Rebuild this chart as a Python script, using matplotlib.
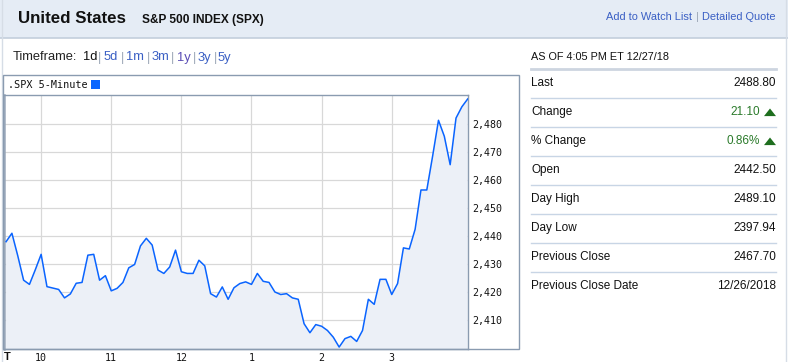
import matplotlib
matplotlib.use('Agg')
import matplotlib.pyplot as plt
from matplotlib.patches import Rectangle, Polygon
from matplotlib.lines import Line2D

# ---------------- data ----------------
start_minute = 570          # 9:30 in minutes after midnight
step_minutes = 5
prices = [2438.0, 2441.0, 2433.0, 2424.3, 2422.8, 2428.0, 2433.5, 2422.0, 2421.5, 2421.0,
          2418.0, 2419.4, 2423.2, 2423.5, 2433.2, 2433.5, 2424.3, 2425.9, 2420.5, 2421.4,
          2423.5, 2428.7, 2429.9, 2436.5, 2439.2, 2436.8, 2427.9, 2426.7, 2429.0, 2435.0,
          2427.3, 2426.7, 2426.7, 2431.4, 2429.4, 2419.5, 2418.3, 2421.9, 2417.5, 2421.6,
          2423.1, 2423.7, 2422.8, 2426.7, 2423.9, 2423.5, 2420.1, 2419.2, 2419.5, 2418.0,
          2417.5, 2408.8, 2405.6, 2408.5, 2407.9, 2406.4, 2404.0, 2400.5, 2403.5, 2404.3,
          2402.5, 2406.4, 2417.5, 2415.7, 2424.6, 2424.6, 2419.2, 2423.1, 2435.8, 2435.4,
          2442.4, 2456.4, 2456.4, 2468.5, 2481.2, 2475.5, 2465.4, 2482.0, 2486.0, 2488.8]
times = [start_minute + step_minutes * i for i in range(len(prices))]

x_tick_minutes = [600, 660, 720, 780, 840, 900]
x_tick_labels = ['10', '11', '12', '1', '2', '3']
y_ticks = [2410, 2420, 2430, 2440, 2450, 2460, 2470, 2480]
y_tick_labels = ['2,410', '2,420', '2,430', '2,440', '2,450', '2,460', '2,470', '2,480']

timeframes = ['1d', '5d', '1m', '3m', '1y', '3y', '5y']
quote_labels = ['Last', 'Change', '% Change', 'Open', 'Day High', 'Day Low',
                'Previous Close', 'Previous Close Date']
quote_values = ['2488.80', '21.10', '0.86%', '2442.50', '2489.10', '2397.94',
                '2467.70', '12/26/2018']
quote_up = [False, True, True, False, False, False, False, False]

# ---------------- figure ----------------
W, H = 788, 362
fig = plt.figure(figsize=(W / 100, H / 100), dpi=100)
fig.patch.set_facecolor('white')


def fx(x):
    return x / W


def fy(y):
    return 1 - y / H


SANS = ['Liberation Sans', 'DejaVu Sans']
MONO = ['DejaVu Sans Mono']
LINK = '#3a5fc4'

# header bar
fig.patches.append(Rectangle((0, fy(37.5)), 1, 37.5 / H, transform=fig.transFigure,
                             facecolor='#e5ecf5', edgecolor='none', zorder=0))
fig.lines.append(Line2D([0, 1], [fy(37.5), fy(37.5)], transform=fig.transFigure,
                        color='#c3cedc', lw=1.2))
# widget side borders
fig.lines.append(Line2D([fx(1.5), fx(1.5)], [0, 1], transform=fig.transFigure,
                        color='#d6dde6', lw=1))
fig.lines.append(Line2D([fx(786), fx(786)], [0, 1], transform=fig.transFigure,
                        color='#d6dde6', lw=1))

fig.text(fx(18), fy(18.5), 'United States', family=SANS, fontsize=12.2,
         fontweight='bold', color='#111111', va='center', ha='left')
fig.text(fx(142), fy(20), 'S&P 500 INDEX (SPX)', family=SANS, fontsize=8.6,
         fontweight='bold', color='#111111', va='center', ha='left')
fig.text(fx(776), fy(17), 'Detailed Quote', family=SANS, fontsize=7.9,
         color=LINK, va='center', ha='right')
fig.text(fx(697), fy(17), '|', family=SANS, fontsize=8,
         color='#9aa5b5', va='center', ha='center')
fig.text(fx(692), fy(17), 'Add to Watch List', family=SANS, fontsize=7.9,
         color=LINK, va='center', ha='right')

# timeframe row
tf_font = 9.3
fig.text(fx(13), fy(57.5), 'Timeframe:', family=SANS, fontsize=tf_font,
         color='#222222', va='center', ha='left')
tf_left = [82.7, 104, 126, 151.7, 176.7, 198, 218]
sep_x = [99.5, 122, 148, 173, 194.8, 215.2]
for i, tf in enumerate(timeframes):
    col = '#111111' if i == 0 else ('#5a4db5' if tf == '1y' else LINK)
    fig.text(fx(tf_left[i]), fy(57.5), tf, family=SANS, fontsize=tf_font,
             color=col, va='center', ha='left')
for sx in sep_x:
    fig.text(fx(sx), fy(57.5), '|', family=SANS, fontsize=tf_font,
             color='#9aa5b5', va='center', ha='center')

# chart outer frame
frame_col = '#8a9bb0'
fig.patches.append(Rectangle((fx(3), fy(349.3)), (519 - 3) / W, (349.3 - 75) / H,
                             transform=fig.transFigure, facecolor='none',
                             edgecolor=frame_col, lw=1, zorder=5))
fig.text(fx(8), fy(85.5), '.SPX 5-Minute', family=MONO, fontsize=7.3,
         color='#111111', va='center', ha='left')
fig.patches.append(Rectangle((fx(91), fy(89)), 9 / W, 9 / H, transform=fig.transFigure,
                             facecolor='#0a66ff', edgecolor='none'))

# plot axes
L, R, T, B = 3.5, 467.7, 95.3, 349.3
ax = fig.add_axes([fx(L), fy(B), (R - L) / W, (B - T) / H])
ax.set_facecolor('white')
ax.fill_between(times, prices, 2300, color='#ecf0f7', lw=0, zorder=1)
ax.plot(times, prices, color='#0a64ff', lw=1.1, zorder=3)
ax.set_xlim(567.8, 965)
ax.set_ylim(2399.7, 2490.1)
ax.set_xticks(x_tick_minutes)
ax.set_xticklabels(x_tick_labels)
ax.set_yticks(y_ticks)
ax.set_yticklabels(y_tick_labels)
ax.yaxis.tick_right()
ax.grid(True, color='#d8d8d8', lw=0.9, zorder=2)
ax.set_axisbelow(True)
ax.tick_params(axis='both', length=0, labelsize=7.2, labelcolor='#111111')
ax.tick_params(axis='y', pad=3.5)
ax.tick_params(axis='x', pad=2.5)
for lab in ax.get_xticklabels() + ax.get_yticklabels():
    lab.set_family(MONO)
for s in ['top', 'right', 'bottom']:
    ax.spines[s].set_color(frame_col)
    ax.spines[s].set_linewidth(1)
ax.spines['left'].set_color('#9aa8ba')
ax.spines['left'].set_linewidth(1.8)
fig.text(fx(3.5), fy(357), 'T', family=SANS, fontsize=8, fontweight='bold',
         color='#111111', va='center', ha='left')

# right quote panel
fig.text(fx(531), fy(57.5), 'AS OF 4:05 PM ET 12/27/18', family=SANS, fontsize=7.8,
         color='#111111', va='center', ha='left')
fig.lines.append(Line2D([fx(531), fx(776)], [fy(69), fy(69)], transform=fig.transFigure,
                        color='#cdd5e0', lw=2))
row0, row_step = 83.3, 29
for i, (lab, val, up) in enumerate(zip(quote_labels, quote_values, quote_up)):
    yy = row0 + i * row_step
    fig.text(fx(531), fy(yy), lab, family=SANS, fontsize=8.5, color='#111111',
             va='center', ha='left')
    if up:
        fig.text(fx(760), fy(yy), val, family=SANS, fontsize=8.5, color='#2a7a2a',
                 va='center', ha='right')
        fig.patches.append(Polygon([(fx(764), fy(yy + 3.8)), (fx(776), fy(yy + 3.8)),
                                    (fx(770), fy(yy - 3.8))], closed=True,
                                   transform=fig.transFigure, facecolor='#1e6e1e',
                                   edgecolor='none'))
    else:
        fig.text(fx(776), fy(yy), val, family=SANS, fontsize=8.5, color='#111111',
                 va='center', ha='right')
    if i < len(quote_labels) - 1:
        ys = yy + 15
        fig.lines.append(Line2D([fx(531), fx(776)], [fy(ys), fy(ys)],
                                transform=fig.transFigure, color='#c8d5e5', lw=1))

fig.savefig('out.png', dpi=100)
